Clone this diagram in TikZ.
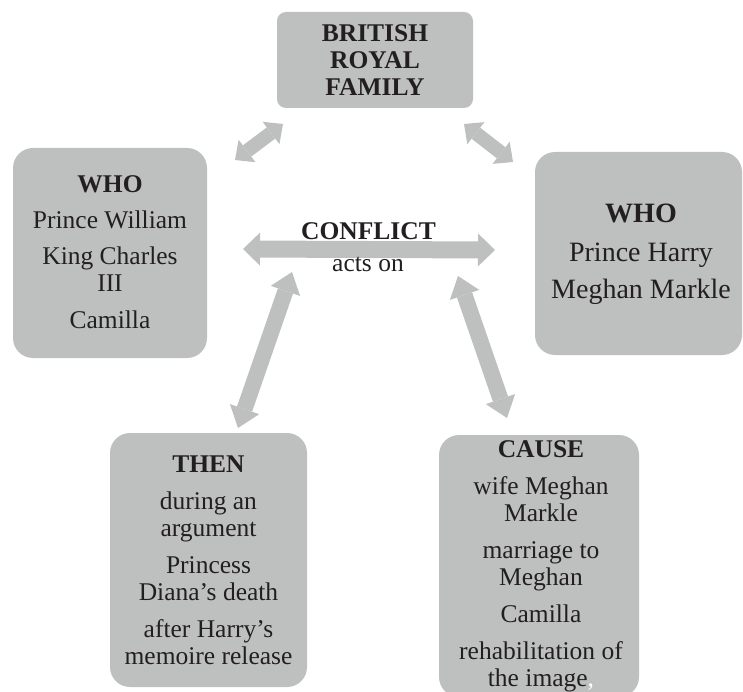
\documentclass[tikz,border=0pt]{standalone}
\usepackage{fontspec}
\setmainfont{Liberation Serif}
\usetikzlibrary{arrows.meta}
\definecolor{boxgray}{HTML}{BEBFBF}
\definecolor{ink}{HTML}{231F20}
\begin{document}
\begin{tikzpicture}[x=1pt,y=-1pt,
  box/.style={fill=boxgray,draw=none,inner sep=0pt,rounded corners=20pt},
  txt/.style={text=ink,align=center,inner sep=0pt,anchor=north,
    font=\fontsize{25.5}{27}\selectfont},
  fatsmall/.style={draw=boxgray,line width=14pt,
    {Triangle[width=28pt,length=15pt,line width=0pt]}-{Triangle[width=28pt,length=15pt,line width=0pt]}},
  fatbig/.style={draw=boxgray,line width=17pt,
    {Triangle[width=33pt,length=17pt,line width=0pt]}-{Triangle[width=33pt,length=17pt,line width=0pt]}},
  fatdiag/.style={draw=boxgray,line width=16pt,
    {Triangle[width=31pt,length=20pt,line width=0pt]}-{Triangle[width=31pt,length=20pt,line width=0pt]}}
]
\useasboundingbox (0,0) rectangle (743,692);
\begin{scope}
\clip (0,0) rectangle (743,692);
% boxes
\node[box,rounded corners=9pt,minimum width=196pt,minimum height=96pt] (top) at (375,60) {};
\node[box,minimum width=194pt,minimum height=210pt] (left) at (110,253) {};
\node[box,minimum width=207pt,minimum height=203pt] (right) at (638.5,253.5) {};
\node[box,minimum width=197pt,minimum height=254pt] (then) at (208.5,560) {};
\node[box,minimum width=200pt,minimum height=262pt] (cause) at (539,566) {};
% arrow end points
\coordinate (a1s) at (235,160); \coordinate (a1e) at (283,124);
\coordinate (a2s) at (464,124); \coordinate (a2e) at (513,162);
\coordinate (a3s) at (243,249); \coordinate (a3e) at (495,250);
\coordinate (a4s) at (292,272); \coordinate (a4e) at (238,428);
\coordinate (a5s) at (458,276); \coordinate (a5e) at (507,418);
\draw[fatsmall] (a1s) -- (a1e);
\draw[fatsmall] (a2s) -- (a2e);
\draw[fatbig] (a3s) -- (a3e);
\draw[fatdiag] (a4s) -- (a4e);
\draw[fatdiag] (a5s) -- (a5e);
% texts
\node[txt] (toptxt) at (375,24.8) {\textbf{BRITISH}\\\textbf{ROYAL}\\\textbf{FAMILY}};
\node[txt] (lefttxt) at (110,175.8) {\textbf{WHO}\\[9pt]Prince William\\[9pt]King Charles\\III\\[10pt]Camilla};
\node[txt,font=\fontsize{28}{30}\selectfont] (righttxt) at (641,204) {\textbf{WHO}\\[9pt]Prince Harry\\[7pt]Meghan Markle};
\node[txt] (thentxt) at (208.5,455.8) {\textbf{THEN}\\[10pt]during an\\argument\\[10pt]Princess\\Diana’s death\\[10pt]after Harry’s\\memoire release};
\node[txt] (causetxt) at (541,440.8) {\textbf{CAUSE}\\[10pt]wife Meghan\\Markle\\[10pt]marriage to\\Meghan\\[10pt]Camilla\\[10pt]rehabilitation of\\the image{\color{white},}};
\node[text=ink,inner sep=0pt,anchor=base,font=\fontsize{25.5}{27}\selectfont\bfseries] (conflict) at (368.5,240) {CONFLICT};
\node[text=ink,inner sep=0pt,anchor=base,font=\fontsize{25.5}{27}\selectfont] (actson) at (368,272) {acts on};
\end{scope}
\end{tikzpicture}
\end{document}
